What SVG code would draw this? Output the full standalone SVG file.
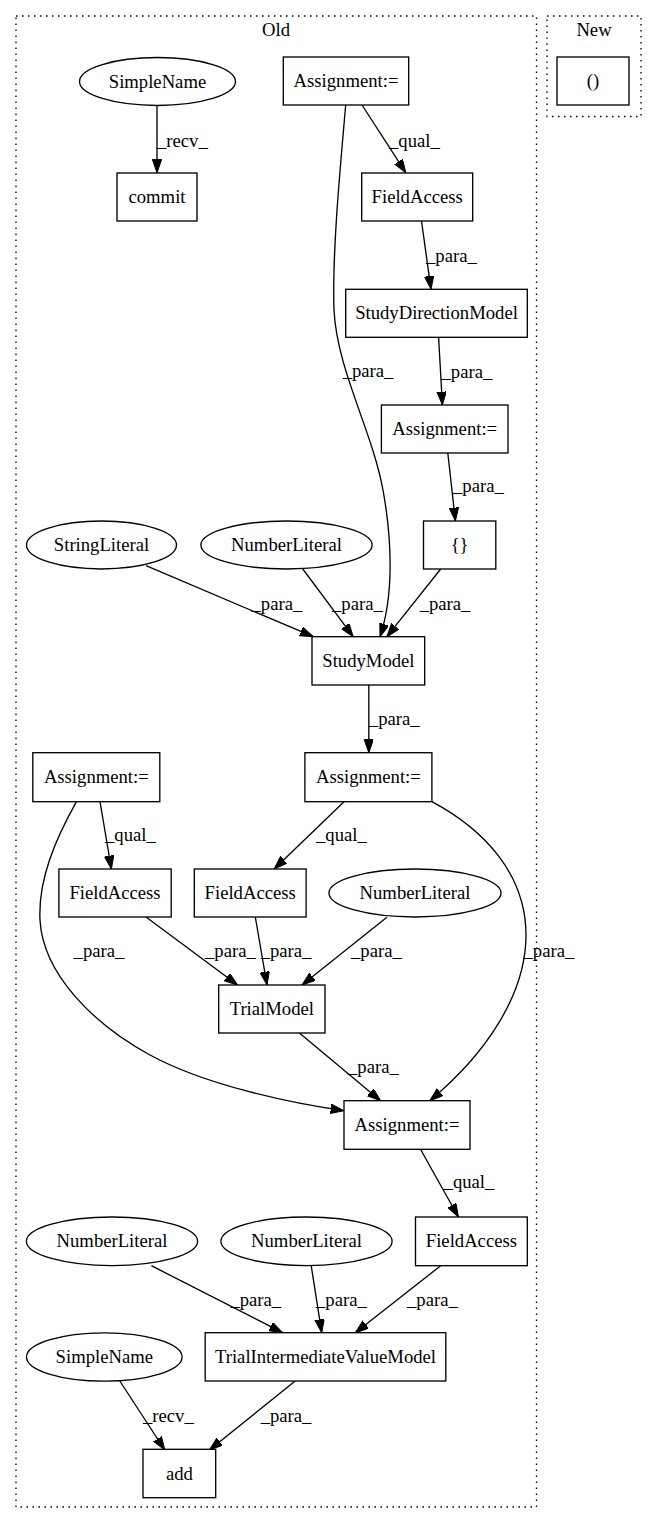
<svg xmlns="http://www.w3.org/2000/svg" width="656" height="1524" viewBox="0 0 656 1524">
<style>
.cl{fill:none;stroke:#000;stroke-width:1.33;stroke-dasharray:1.5,4.5}
.n rect,.n ellipse{fill:#fff;stroke:#000;stroke-width:1.33}
text{font-family:"Liberation Serif","Times New Roman",serif;font-size:18.67px;fill:#000}
.n text,.ct{text-anchor:middle}
.e path{fill:none;stroke:#000;stroke-width:1.33;marker-end:url(#ah)}
</style>
<defs>
<marker id="ah" markerUnits="userSpaceOnUse" markerWidth="14" markerHeight="10" refX="13.3" refY="4.67" orient="auto">
<path d="M0,0 L13.3,4.67 L0,9.33 z" fill="#000" stroke="#000" stroke-width="1"/>
</marker>
</defs>
<rect width="656" height="1524" fill="#fff"/>
<g id="cluster_old">
<rect class="cl" x="16" y="16" width="520.5" height="1491"/>
<text class="ct" x="276" y="36">Old</text>
</g>
<g id="cluster_new">
<rect class="cl" x="547" y="16" width="94" height="100.5"/>
<text class="ct" x="594" y="36">New</text>
</g>
<g id="edges" class="e">
<path d="M157,105.5 L157,172.7"/>
<path d="M362,105 L405.8,172.7"/>
<path d="M345.7,105 C341,160 332,250 334,310 C337,370 372,430 383,490 C392,540 394,595 380,636.7"/>
<path d="M421.5,221 L431,289.3"/>
<path d="M438.6,337.3 L442.4,405"/>
<path d="M447.8,453 L455.4,521"/>
<path d="M146,565.7 L313.3,636.7"/>
<path d="M302.8,569 L353.2,636.7"/>
<path d="M440.7,569 L386.9,636.7"/>
<path d="M368.8,685 L368.8,752.7"/>
<path d="M100,801.7 L111.4,869"/>
<path d="M344,801.7 L274.2,869"/>
<path d="M76.5,801.7 C55,840 38,880 40,920 C43,975 95,1025 150,1055 C205,1085 290,1103 344,1110.7"/>
<path d="M431.9,801.7 C485,830 526,875 526,935 C526,995 485,1055 429.8,1100.7"/>
<path d="M146,917 L237.6,985"/>
<path d="M255.3,917 L267,985"/>
<path d="M386.9,917.3 L302,985"/>
<path d="M299.4,1033 L380.6,1100.7"/>
<path d="M420.5,1149.3 L458.4,1217"/>
<path d="M151.4,1265.7 L282.6,1332.7"/>
<path d="M311.2,1265.7 L321.7,1332.7"/>
<path d="M440.7,1265.7 L355.3,1332.7"/>
<path d="M119.8,1381 L164.8,1450"/>
<path d="M295.2,1381 L209.4,1450"/>
</g>
<g id="edge_labels">
<text x="157" y="147">_recv_</text>
<text x="389" y="147">_qual_</text>
<text x="342.7" y="377">_para_</text>
<text x="426" y="262">_para_</text>
<text x="441.5" y="378">_para_</text>
<text x="453" y="492">_para_</text>
<text x="251.5" y="610">_para_</text>
<text x="332" y="610">_para_</text>
<text x="419.7" y="610">_para_</text>
<text x="368.8" y="725">_para_</text>
<text x="105" y="841">_qual_</text>
<text x="316" y="841">_qual_</text>
<text x="73.6" y="957">_para_</text>
<text x="523.5" y="957">_para_</text>
<text x="205" y="957">_para_</text>
<text x="260.7" y="957">_para_</text>
<text x="351" y="957">_para_</text>
<text x="348" y="1073">_para_</text>
<text x="443.6" y="1188">_qual_</text>
<text x="230.4" y="1306">_para_</text>
<text x="316" y="1306">_para_</text>
<text x="407" y="1306">_para_</text>
<text x="143" y="1422">_recv_</text>
<text x="260.7" y="1422">_para_</text>
</g>
<g id="n_simplename1" class="n"><ellipse cx="157.5" cy="81.5" rx="78" ry="24"/><text x="157.5" y="87.5">SimpleName</text></g>
<g id="n_commit" class="n"><rect x="117" y="173" width="80" height="48"/><text x="157" y="203">commit</text></g>
<g id="n_assign1" class="n"><rect x="283.3" y="57" width="125.4" height="48"/><text x="346" y="87">Assignment:=</text></g>
<g id="n_paren" class="n"><rect x="557" y="57" width="72" height="48"/><text x="593" y="87">()</text></g>
<g id="n_field1" class="n"><rect x="361.7" y="173" width="111" height="48"/><text x="417.2" y="203">FieldAccess</text></g>
<g id="n_sdm" class="n"><rect x="345.7" y="289.3" width="181.6" height="48"/><text x="436.5" y="319.3">StudyDirectionModel</text></g>
<g id="n_assign2" class="n"><rect x="381.4" y="405" width="126.6" height="48"/><text x="444.7" y="435">Assignment:=</text></g>
<g id="n_brace" class="n"><rect x="423.5" y="521" width="72.3" height="48"/><text x="459.6" y="551">{}</text></g>
<g id="n_string" class="n"><ellipse cx="101.5" cy="545" rx="75" ry="24"/><text x="101.5" y="551">StringLiteral</text></g>
<g id="n_num1" class="n"><ellipse cx="286.5" cy="545" rx="85.6" ry="24"/><text x="286.5" y="551">NumberLiteral</text></g>
<g id="n_studymodel" class="n"><rect x="312" y="636.7" width="112.7" height="48.3"/><text x="368.4" y="667">StudyModel</text></g>
<g id="n_assign3" class="n"><rect x="32.8" y="752.7" width="127" height="49"/><text x="96.3" y="783">Assignment:=</text></g>
<g id="n_assign4" class="n"><rect x="304.9" y="752.7" width="127" height="49"/><text x="368.4" y="783">Assignment:=</text></g>
<g id="n_field2" class="n"><rect x="58.9" y="869" width="112.3" height="48"/><text x="115" y="899">FieldAccess</text></g>
<g id="n_field3" class="n"><rect x="194.3" y="869" width="111.8" height="48"/><text x="250.2" y="899">FieldAccess</text></g>
<g id="n_num2" class="n"><ellipse cx="415" cy="893" rx="86" ry="24"/><text x="415" y="899">NumberLiteral</text></g>
<g id="n_trialmodel" class="n"><rect x="218.7" y="985" width="106.3" height="48"/><text x="271.8" y="1015">TrialModel</text></g>
<g id="n_assign5" class="n"><rect x="344" y="1100.7" width="126" height="48.6"/><text x="407" y="1131">Assignment:=</text></g>
<g id="n_field4" class="n"><rect x="415.5" y="1217" width="111.8" height="48.7"/><text x="471.4" y="1247">FieldAccess</text></g>
<g id="n_num3" class="n"><ellipse cx="112" cy="1241.3" rx="85.6" ry="24.3"/><text x="112" y="1247.3">NumberLiteral</text></g>
<g id="n_num4" class="n"><ellipse cx="306.5" cy="1241.3" rx="85.6" ry="24.3"/><text x="306.5" y="1247.3">NumberLiteral</text></g>
<g id="n_simplename2" class="n"><ellipse cx="104.3" cy="1357" rx="77.8" ry="24.2"/><text x="104.3" y="1363">SimpleName</text></g>
<g id="n_tivm" class="n"><rect x="205.2" y="1332.7" width="240.6" height="48.3"/><text x="325.5" y="1363">TrialIntermediateValueModel</text></g>
<g id="n_add" class="n"><rect x="143" y="1449.3" width="72.7" height="48.4"/><text x="179.4" y="1479.5">add</text></g>
</svg>
